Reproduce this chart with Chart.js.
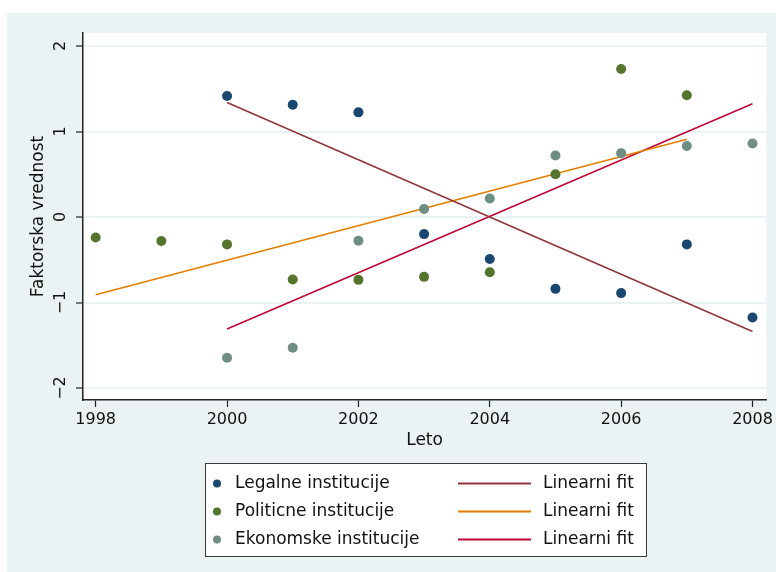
<!DOCTYPE html>
<html>
<head>
<meta charset="utf-8">
<title>Faktorska vrednost institucija 1998–2008</title>
<script src="https://cdn.jsdelivr.net/npm/chart.js@4/dist/chart.umd.min.js"></script>
<style>
  html, body { margin: 0; padding: 0; background: #ffffff; }
  canvas { display: block; }
</style>
</head>
<body>
<canvas id="chart" width="776" height="572"></canvas>
<script>
// Factor scores per year for three groups of institutions
const legalYears = [2000, 2001, 2002, 2003, 2004, 2005, 2006, 2007, 2008];
const legalValues = [1.415, 1.313, 1.224, -0.20, -0.49, -0.84, -0.89, -0.32, -1.175];

const politicalYears = [1998, 1999, 2000, 2001, 2002, 2003, 2004, 2005, 2006, 2007];
const politicalValues = [-0.24, -0.28, -0.32, -0.73, -0.735, -0.70, -0.645, 0.50, 1.73, 1.425];

const economicYears = [2000, 2001, 2002, 2003, 2004, 2005, 2006, 2007, 2008];
const economicValues = [-1.645, -1.528, -0.277, 0.094, 0.216, 0.72, 0.747, 0.83, 0.86];

// Linear fit end points (first and last year of each series)
const legalFitYears = [2000, 2008];
const legalFitValues = [1.34, -1.34];
const politicalFitYears = [1998, 2007];
const politicalFitValues = [-0.91, 0.91];
const economicFitYears = [2000, 2008];
const economicFitValues = [-1.31, 1.325];

// Axis ticks
const xTicks = [1998, 2000, 2002, 2004, 2006, 2008];
const yTicks = [-2, -1, 0, 1, 2];
const yTickLabels = ['−2', '−1', '0', '1', '2'];

const seriesLabels = ['Legalne institucije', 'Politicne institucije', 'Ekonomske institucije'];
const fitLabel = 'Linearni fit';

const FONT = "'DejaVu Sans', 'Liberation Sans', Arial, sans-serif";
const REGION_BG = '#EAF2F3';

function toPoints(xs, ys) {
  return xs.map((x, i) => ({ x: x, y: ys[i] }));
}

function scatterSet(label, xs, ys, color) {
  return {
    type: 'scatter',
    label: label,
    data: toPoints(xs, ys),
    backgroundColor: color,
    borderColor: color,
    borderWidth: 0,
    pointRadius: 5,
    pointHoverRadius: 5,
    order: 0
  };
}

function fitSet(xs, ys, color) {
  return {
    type: 'line',
    label: fitLabel,
    data: toPoints(xs, ys),
    borderColor: color,
    backgroundColor: color,
    borderWidth: 1.6,
    pointRadius: 0,
    fill: false,
    tension: 0,
    order: 1
  };
}

const datasets = [
  scatterSet(seriesLabels[0], legalYears, legalValues, '#1a476f'),
  fitSet(legalFitYears, legalFitValues, '#90353b'),
  scatterSet(seriesLabels[1], politicalYears, politicalValues, '#55752f'),
  fitSet(politicalFitYears, politicalFitValues, '#e37e00'),
  scatterSet(seriesLabels[2], economicYears, economicValues, '#6e8e84'),
  fitSet(economicFitYears, economicFitValues, '#c10534')
];

// Graph region background and white plot region
const backgroundPlugin = {
  id: 'regionBackground',
  beforeDraw(chart) {
    const { ctx, chartArea, width, height } = chart;
    ctx.save();
    ctx.fillStyle = '#ffffff';
    ctx.fillRect(0, 0, width, height);
    ctx.fillStyle = REGION_BG;
    ctx.fillRect(7, 13, width - 7, height - 13);
    ctx.fillStyle = '#ffffff';
    ctx.fillRect(chartArea.left, chartArea.top, chartArea.right - chartArea.left, chartArea.bottom - chartArea.top);
    ctx.restore();
  }
};

// Rotated value labels on the vertical axis
const yLabelPlugin = {
  id: 'rotatedYLabels',
  afterDraw(chart) {
    const { ctx } = chart;
    const yScale = chart.scales.y;
    ctx.save();
    ctx.fillStyle = '#111111';
    ctx.font = '16px ' + FONT;
    ctx.textAlign = 'center';
    ctx.textBaseline = 'alphabetic';
    yTicks.forEach((v, i) => {
      const py = yScale.getPixelForValue(v);
      ctx.save();
      ctx.translate(65, py);
      ctx.rotate(-Math.PI / 2);
      ctx.fillText(yTickLabels[i], 0, 0);
      ctx.restore();
    });
    ctx.restore();
  }
};

// Boxed two-column legend below the axis title
const legendPlugin = {
  id: 'boxedLegend',
  afterDraw(chart) {
    const { ctx } = chart;
    const box = { x: 205.5, y: 463.5, w: 441, h: 93 };
    const rows = [483.5, 511.5, 539.5];
    ctx.save();
    ctx.fillStyle = '#ffffff';
    ctx.fillRect(box.x, box.y, box.w, box.h);
    ctx.strokeStyle = '#3a3a3a';
    ctx.lineWidth = 1;
    ctx.strokeRect(box.x, box.y, box.w, box.h);
    ctx.font = '17px ' + FONT;
    ctx.textBaseline = 'middle';
    ctx.textAlign = 'left';
    for (let r = 0; r < 3; r++) {
      const pointSet = chart.data.datasets[r * 2];
      const lineSet = chart.data.datasets[r * 2 + 1];
      const y = rows[r];
      ctx.fillStyle = pointSet.backgroundColor;
      ctx.beginPath();
      ctx.arc(217, y, 4, 0, Math.PI * 2);
      ctx.fill();
      ctx.fillStyle = '#111111';
      ctx.fillText(pointSet.label, 235, y);
      ctx.strokeStyle = lineSet.borderColor;
      ctx.lineWidth = 2;
      ctx.beginPath();
      ctx.moveTo(458, y);
      ctx.lineTo(531, y);
      ctx.stroke();
      ctx.fillStyle = '#111111';
      ctx.fillText(lineSet.label, 543, y);
    }
    ctx.restore();
  }
};

new Chart(document.getElementById('chart'), {
  data: { datasets: datasets },
  options: {
    responsive: false,
    animation: false,
    devicePixelRatio: 1,
    layout: { padding: { left: 0, top: 33, right: 7, bottom: 121 } },
    plugins: {
      legend: { display: false },
      tooltip: { enabled: false },
      title: { display: false }
    },
    scales: {
      x: {
        type: 'linear',
        min: 1997.807,
        max: 2008.208,
        afterBuildTicks(scale) { scale.ticks = xTicks.map(v => ({ value: v })); },
        afterFit(scale) { scale.height = 51; },
        ticks: {
          autoSkip: false,
          maxRotation: 0,
          padding: 3,
          color: '#111111',
          font: { family: FONT, size: 16 },
          callback: (v) => String(v)
        },
        grid: {
          drawOnChartArea: false,
          drawTicks: true,
          tickLength: 7,
          tickColor: '#222222',
          tickWidth: 1.2
        },
        border: { display: true, color: '#222222', width: 1.5 },
        title: {
          display: true,
          text: 'Leto',
          color: '#111111',
          font: { family: FONT, size: 17 },
          padding: { top: 0, bottom: 0 }
        }
      },
      y: {
        type: 'linear',
        min: -2.140,
        max: 2.152,
        afterBuildTicks(scale) { scale.ticks = yTicks.map(v => ({ value: v })); },
        afterFit(scale) { scale.width = 83; },
        ticks: { display: false },
        grid: {
          drawOnChartArea: true,
          color: REGION_BG,
          lineWidth: 2,
          drawTicks: true,
          tickLength: 7,
          tickColor: '#222222',
          tickWidth: 1.2
        },
        border: { display: true, color: '#222222', width: 1.5 },
        title: {
          display: true,
          text: 'Faktorska vrednost',
          color: '#111111',
          font: { family: FONT, size: 17 },
          padding: { top: 28, bottom: 0 }
        }
      }
    }
  },
  plugins: [backgroundPlugin, yLabelPlugin, legendPlugin]
});
</script>
</body>
</html>
